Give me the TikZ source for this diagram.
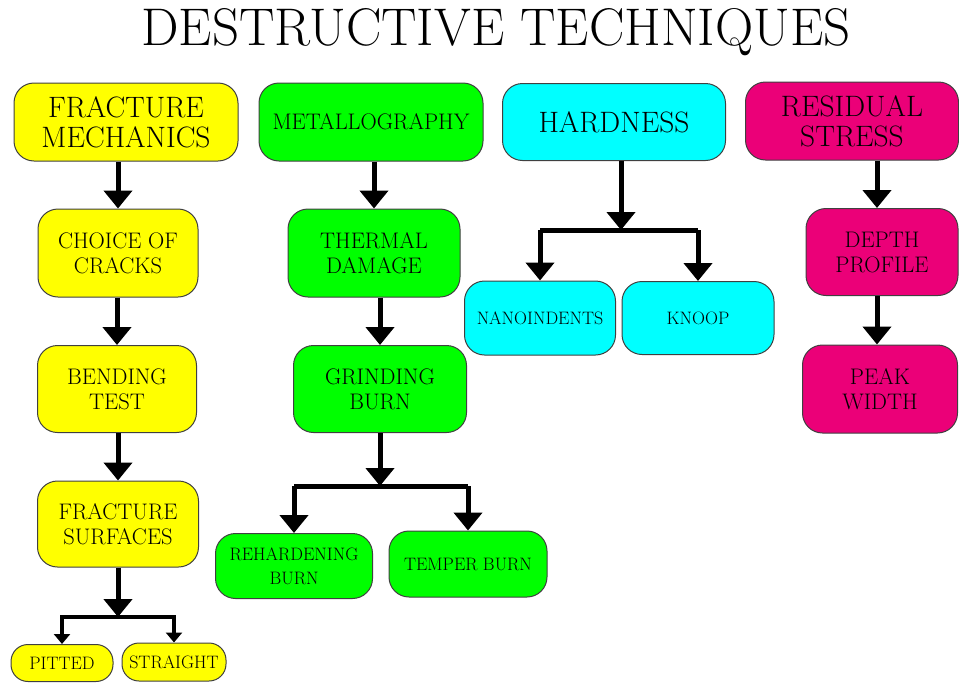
\documentclass[tikz,border=0pt]{standalone}
\usetikzlibrary{arrows.meta}
\definecolor{resid}{RGB}{235,0,120}
\definecolor{hcyan}{RGB}{0,255,255}
\definecolor{myel}{RGB}{255,255,0}
\definecolor{mgrn}{RGB}{0,255,0}
\tikzset{%
    box/.style={draw=black!75, line width=1pt, rounded corners=20pt, align=center, inner sep=0pt},
    yel/.style={box, fill=myel},
    grn/.style={box, fill=mgrn},
    cyn/.style={box, fill=hcyan},
    pnk/.style={box, fill=resid},
    bigt/.style={font=\fontsize{29.5}{30}\selectfont},
    midt/.style={font=\fontsize{22.5}{25}\selectfont},
    smt/.style={font=\fontsize{18}{24}\selectfont},
    arr/.style={line width=5pt, -{Triangle[width=28pt,length=18pt]}},
    sarr/.style={line width=3.5pt, -{Triangle[width=16pt,length=10pt]}},
    bar/.style={line width=5pt},
}

\begin{document}
\begin{tikzpicture}[x=1pt,y=-1pt]
    \useasboundingbox (0,0) rectangle (959,683);
    \node (title) at (496,32) {\fontsize{53}{56}\selectfont DESTRUCTIVE TECHNIQUES};
    % fracture mechanics column
    \node[yel,bigt,minimum width=224,minimum height=78] (frac) at (126,122) {FRACTURE\\MECHANICS};
    \node[yel,midt,minimum width=160,minimum height=88] (choice) at (118,253) {CHOICE OF\\CRACKS};
    \node[yel,midt,minimum width=159,minimum height=87] (bend) at (117,389) {BENDING\\TEST};
    \node[yel,midt,minimum width=161,minimum height=86] (surf) at (118,524) {FRACTURE\\SURFACES};
    \node[yel,smt,minimum width=102,minimum height=37,rounded corners=17pt] (pit) at (62,663) {PITTED};
    \node[yel,smt,minimum width=104,minimum height=38,rounded corners=17pt] (straight) at (174,662) {STRAIGHT};
    \coordinate (fjoin) at (118,617);
    \draw [arr](choice.north |- frac.south)--(choice.north);
    \draw [arr](bend.north |- choice.south)--(bend.north);
    \draw [arr](surf.north |- bend.south)--(surf.north);
    \draw [arr](surf.south)--(fjoin);
    \draw [sarr](fjoin)-|(pit.north);
    \draw [sarr](fjoin)-|(straight.north);
    % metallography column
    \node[grn,midt,minimum width=224,minimum height=78] (metal) at (371,122) {METALLOGRAPHY};
    \node[grn,midt,minimum width=172,minimum height=88] (therm) at (374,253) {THERMAL\\DAMAGE};
    \node[grn,midt,minimum width=173,minimum height=87] (grind) at (380,389) {GRINDING\\BURN};
    \node[grn,smt,minimum width=157,minimum height=65] (reh) at (294,566) {REHARDENING\\BURN};
    \node[grn,smt,minimum width=158,minimum height=66] (temper) at (468,564) {TEMPER BURN};
    \coordinate (gjoin) at (380,486);
    \draw [arr](therm.north |- metal.south)--(therm.north);
    \draw [arr](grind.north |- therm.south)--(grind.north);
    \draw [arr](grind.south)--(gjoin);
    \draw [bar](reh.north |- gjoin)--(temper.north |- gjoin);
    \draw [arr](reh.north |- gjoin)--(reh.north);
    \draw [arr](temper.north |- gjoin)--(temper.north);
    % hardness column
    \node[cyn,bigt,minimum width=223,minimum height=77] (hard) at (614,122) {HARDNESS};
    \node[cyn,smt,minimum width=151,minimum height=74] (nano) at (540,318) {NANOINDENTS};
    \node[cyn,smt,minimum width=152,minimum height=73] (knoop) at (698,318) {KNOOP};
    \coordinate (hjoin) at (621,230);
    \draw [arr](hard.south -| hjoin)--(hjoin);
    \draw [bar](nano.north |- hjoin)--(knoop.north |- hjoin);
    \draw [arr](nano.north |- hjoin)--(nano.north);
    \draw [arr](knoop.north |- hjoin)--(knoop.north);
    % residual stress column
    \node[pnk,bigt,minimum width=213,minimum height=78] (resstr) at (852,121) {RESIDUAL\\STRESS};
    \node[pnk,midt,minimum width=152,minimum height=87] (depth) at (882,252) {DEPTH\\PROFILE};
    \node[pnk,midt,minimum width=155,minimum height=88] (peak) at (880,389) {PEAK\\WIDTH};
    \draw [arr](resstr.south -| 877,0)--(depth.north -| 877,0);
    \draw [arr](depth.south -| 877,0)--(peak.north -| 877,0);
\end{tikzpicture}
\end{document}
